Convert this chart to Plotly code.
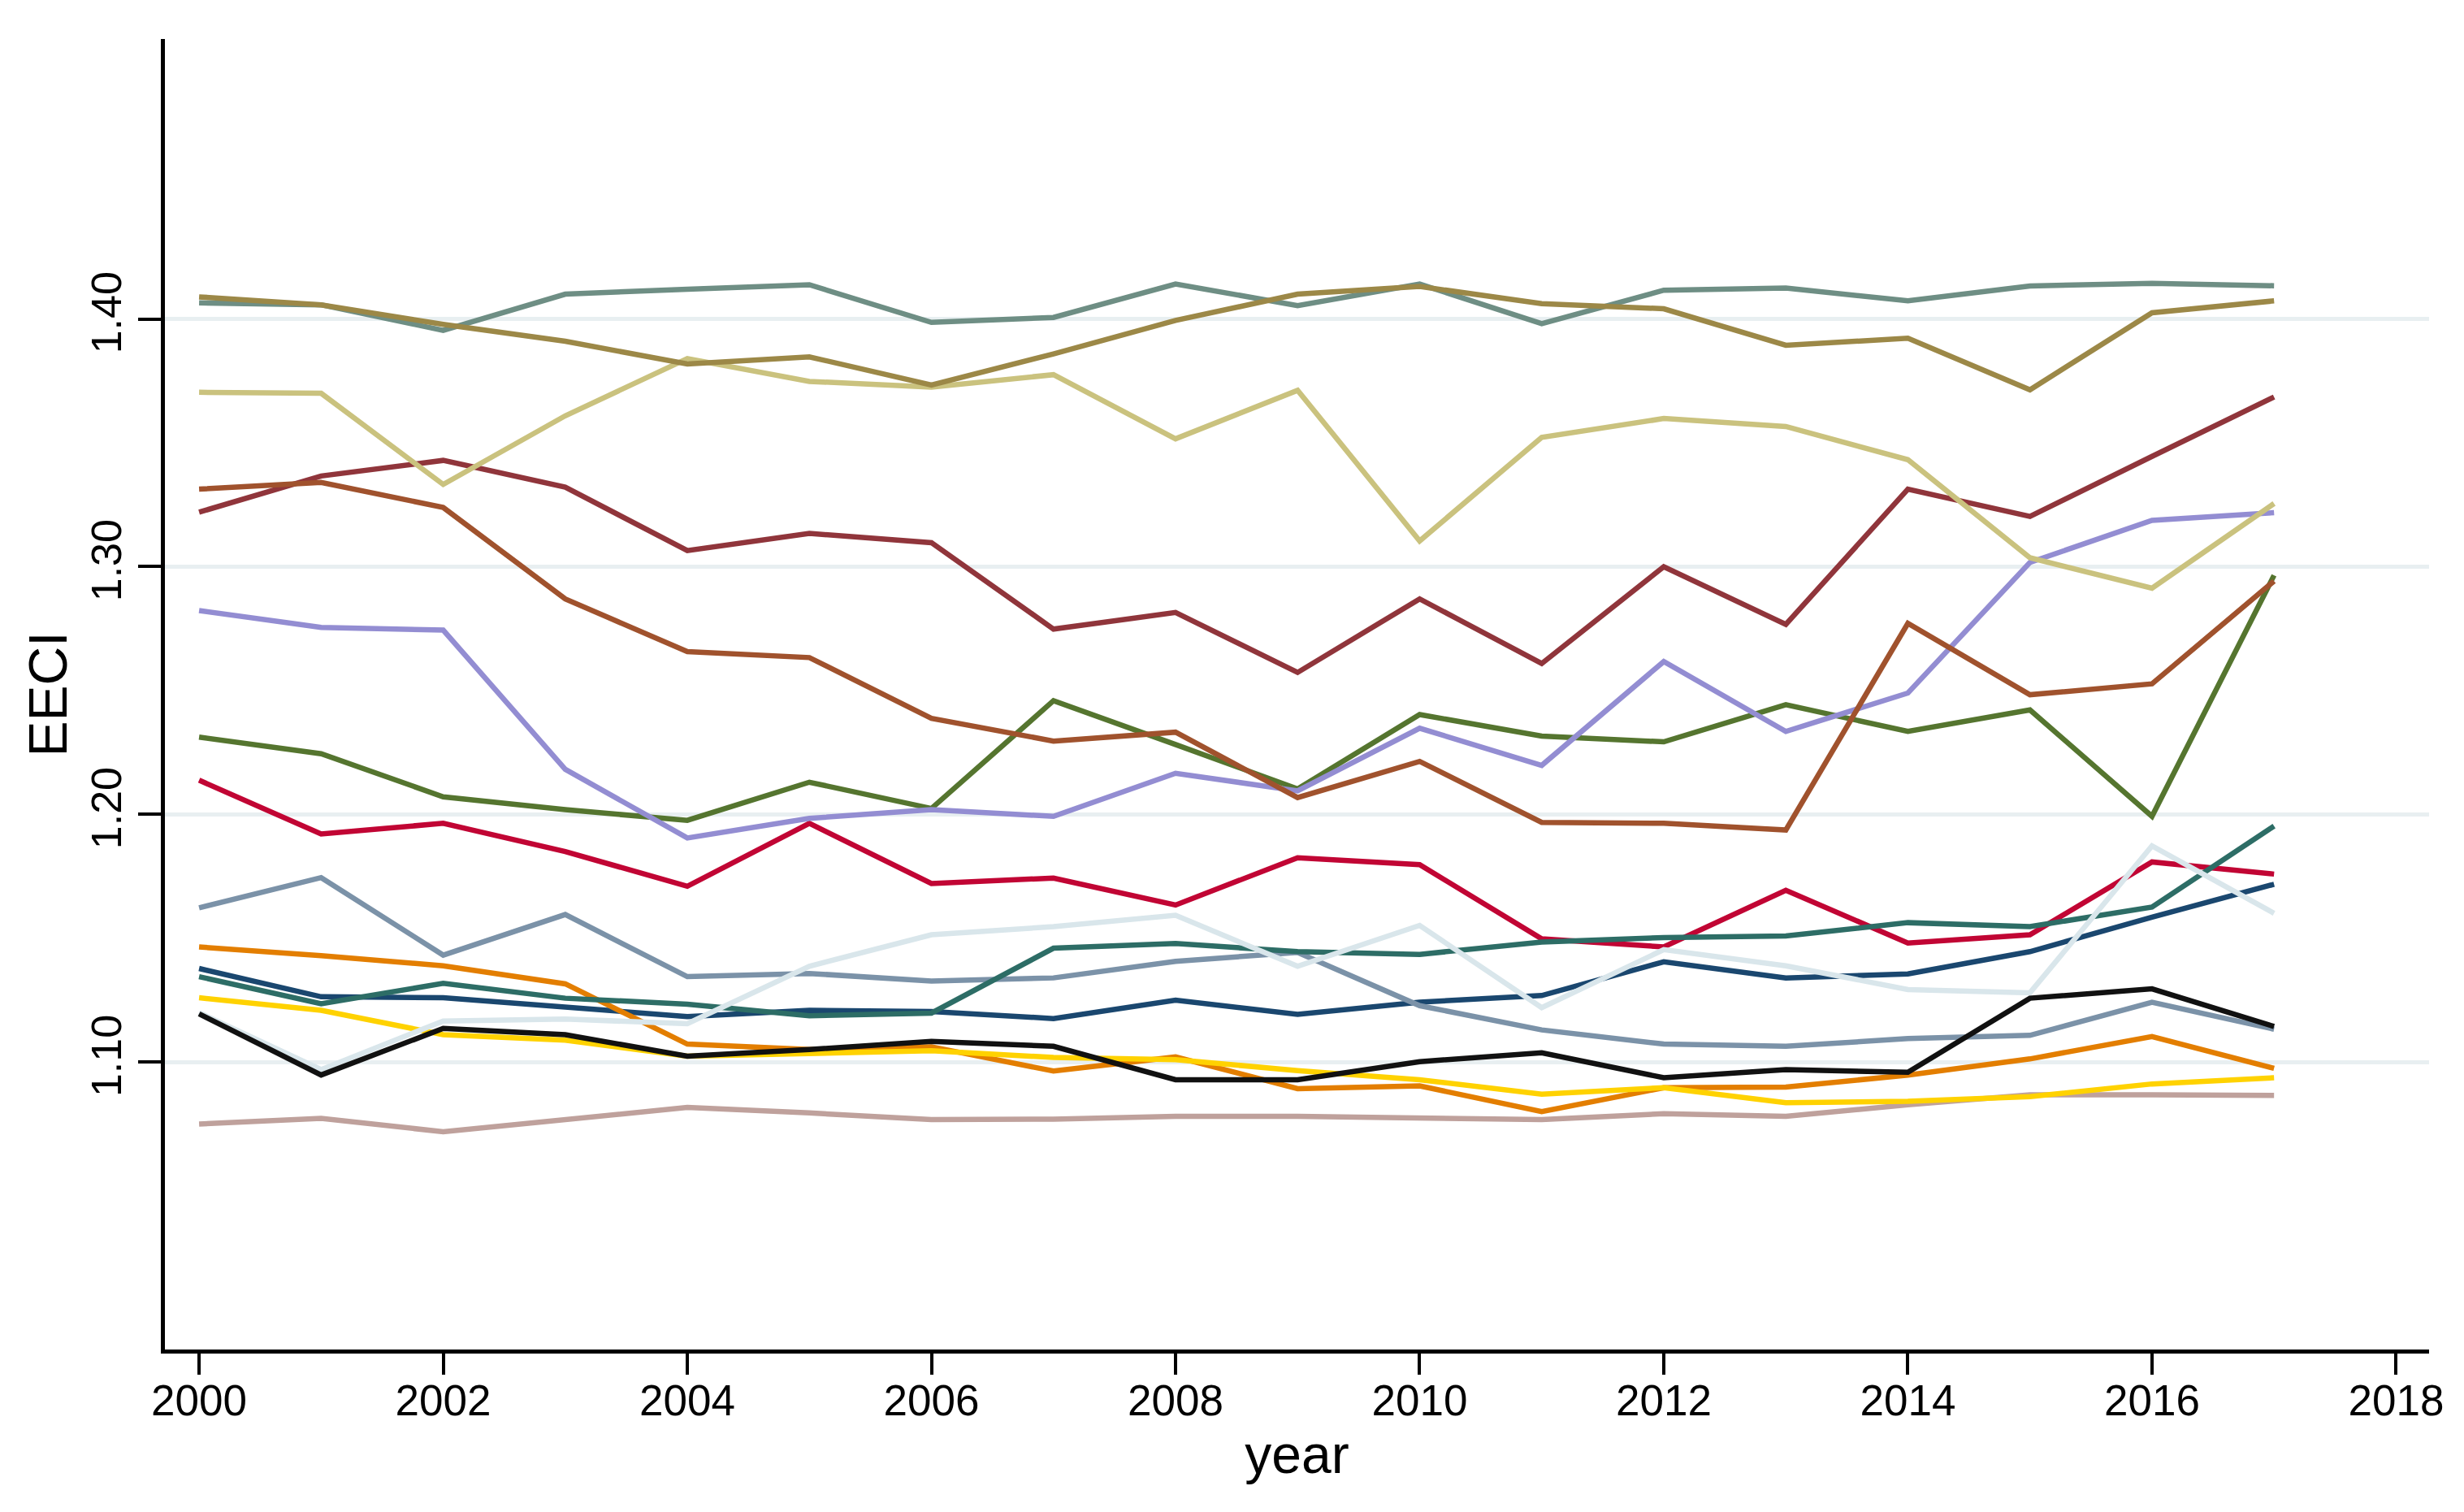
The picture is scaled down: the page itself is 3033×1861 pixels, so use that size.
import plotly.graph_objects as go

years = list(range(2000, 2018))

navy = [1.1378, 1.1264, 1.1260, 1.1220, 1.1184, 1.1209, 1.1204, 1.1176, 1.1250, 1.1193, 1.1242, 1.1269, 1.1405, 1.1340, 1.1356, 1.1446, 1.1585, 1.1718]
maroon = [1.3220, 1.3366, 1.3429, 1.3321, 1.3065, 1.3134, 1.3097, 1.2748, 1.2815, 1.2573, 1.2870, 1.2609, 1.3000, 1.2767, 1.3313, 1.3203, 1.3445, 1.3685]
forest_green = [1.2312, 1.2245, 1.2071, 1.2019, 1.1976, 1.2130, 1.2024, 1.2459, 1.2282, 1.2103, 1.2403, 1.2316, 1.2293, 1.2443, 1.2335, 1.2422, 1.1992, 1.2965]
dkorange = [1.1465, 1.1430, 1.1389, 1.1316, 1.1073, 1.1051, 1.1062, 1.0964, 1.1021, 1.0893, 1.0904, 1.0800, 1.0897, 1.0899, 1.0948, 1.1013, 1.1103, 1.0975]
teal = [1.4065, 1.4057, 1.3954, 1.4100, 1.4120, 1.4138, 1.3986, 1.4006, 1.4141, 1.4054, 1.4141, 1.3981, 1.4116, 1.4125, 1.4073, 1.4133, 1.4144, 1.4134]
cranberry = [1.2138, 1.1921, 1.1964, 1.1850, 1.1710, 1.1964, 1.1721, 1.1743, 1.1634, 1.1825, 1.1797, 1.1498, 1.1465, 1.1694, 1.1481, 1.1514, 1.1808, 1.1759]
lavender = [1.2823, 1.2755, 1.2744, 1.2182, 1.1905, 1.1984, 1.2019, 1.1992, 1.2166, 1.2095, 1.2348, 1.2198, 1.2617, 1.2335, 1.2490, 1.3017, 1.3187, 1.3218]
khaki = [1.3704, 1.3700, 1.3332, 1.3609, 1.3840, 1.3748, 1.3725, 1.3775, 1.3516, 1.3712, 1.3104, 1.3522, 1.3598, 1.3566, 1.3432, 1.3036, 1.2913, 1.3255]
sienna = [1.3313, 1.3340, 1.3239, 1.2870, 1.2657, 1.2633, 1.2388, 1.2296, 1.2332, 1.2068, 1.2214, 1.1968, 1.1964, 1.1937, 1.2771, 1.2483, 1.2527, 1.2942]
emidblue = [1.1623, 1.1745, 1.1432, 1.1596, 1.1345, 1.1358, 1.1327, 1.1340, 1.1407, 1.1443, 1.1228, 1.1130, 1.1073, 1.1064, 1.1095, 1.1108, 1.1242, 1.1133]
emerald = [1.1345, 1.1236, 1.1318, 1.1258, 1.1234, 1.1187, 1.1198, 1.1460, 1.1479, 1.1446, 1.1435, 1.1485, 1.1503, 1.1509, 1.1563, 1.1547, 1.1626, 1.1953]
brown = [1.4089, 1.4057, 1.3978, 1.3910, 1.3818, 1.3847, 1.3733, 1.3859, 1.3994, 1.4100, 1.4131, 1.4062, 1.4041, 1.3894, 1.3922, 1.3714, 1.4025, 1.4073]
erose = [1.0750, 1.0773, 1.0719, 1.0768, 1.0817, 1.0795, 1.0768, 1.0770, 1.0781, 1.0781, 1.0777, 1.0768, 1.0792, 1.0781, 1.0828, 1.0868, 1.0868, 1.0866]
gold = [1.1260, 1.1209, 1.1111, 1.1089, 1.1024, 1.1035, 1.1046, 1.1019, 1.1010, 1.0966, 1.0929, 1.0871, 1.0897, 1.0836, 1.0842, 1.0861, 1.0912, 1.0937]
bluishgray = [1.1200, 1.0970, 1.1166, 1.1174, 1.1155, 1.1387, 1.1514, 1.1547, 1.1593, 1.1387, 1.1552, 1.1220, 1.1454, 1.1389, 1.1293, 1.1280, 1.1873, 1.1601]
black = [1.1195, 1.0948, 1.1136, 1.1111, 1.1024, 1.1051, 1.1084, 1.1064, 1.0929, 1.0929, 1.1002, 1.1038, 1.0937, 1.0970, 1.0959, 1.1258, 1.1296, 1.1144]

x_ticks = list(range(2000, 2019, 2))
y_ticks = [1.10, 1.20, 1.30, 1.40]

series = [
    (navy, "#1A476F"),
    (maroon, "#90353B"),
    (forest_green, "#55752F"),
    (dkorange, "#E37E00"),
    (teal, "#6E8E84"),
    (cranberry, "#C10534"),
    (lavender, "#938DD2"),
    (khaki, "#CAC27E"),
    (sienna, "#A0522D"),
    (emidblue, "#7B92A8"),
    (emerald, "#2D6D66"),
    (brown, "#9C8847"),
    (erose, "#BFA19C"),
    (gold, "#FFD200"),
    (bluishgray, "#D9E6EB"),
    (black, "#111111"),
]

fig = go.Figure()
for vals, col in series:
    fig.add_trace(go.Scatter(x=years, y=vals, mode="lines",
                             line=dict(color=col, width=6.5),
                             showlegend=False, hoverinfo="skip"))

font_family = "Liberation Sans, Arial, sans-serif"

fig.update_layout(
    width=3033, height=1861,
    margin=dict(l=203, r=43, t=48, b=200),
    paper_bgcolor="white", plot_bgcolor="white",
    font=dict(family=font_family, color="black"),
    xaxis=dict(
        range=[1999.72, 2018.27],
        tickmode="array", tickvals=x_ticks, ticktext=[str(v) for v in x_ticks],
        ticks="outside", ticklen=26, tickwidth=4, tickcolor="black",
        ticklabelstandoff=-14,
        showline=True, linewidth=5, linecolor="black",
        showgrid=False, zeroline=False,
        tickfont=dict(size=53, family=font_family),
        title=dict(text="year", font=dict(size=66, family=font_family), standoff=17),
    ),
    yaxis=dict(
        range=[0.984, 1.513],
        tickmode="array", tickvals=y_ticks, ticktext=["%.2f" % v for v in y_ticks],
        tickangle=-90,
        ticks="outside", ticklen=28, tickwidth=4, tickcolor="black",
        showline=True, linewidth=5, linecolor="black",
        showgrid=True, gridcolor="#E8EFF1", gridwidth=5, zeroline=False,
        tickfont=dict(size=52, family=font_family),
        title=dict(text="EECI", font=dict(size=66, family=font_family), standoff=0),
    ),
)

fig.write_html("out.html", config={"displayModeBar": False},
               post_script="document.body.style.margin='0';")
